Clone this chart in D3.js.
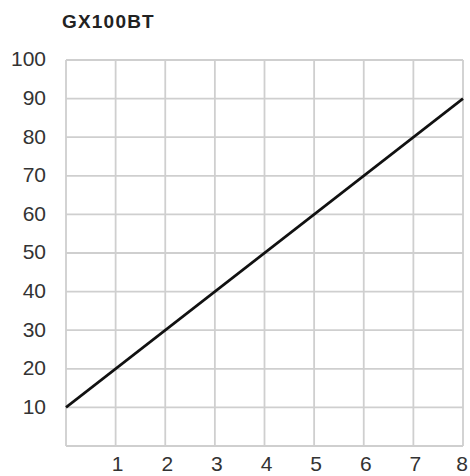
<!DOCTYPE html>
<html>
<head>
<meta charset="utf-8">
<script src="https://cdn.jsdelivr.net/npm/d3@7"></script>
<style>
  body { margin: 0; background: #fff; }
  text { font-family: "Liberation Sans", Arial, sans-serif; }
</style>
</head>
<body>
<script>
// the chart data
const title = "GX100BT";
const xTicks = [1, 2, 3, 4, 5, 6, 7, 8];
const yTicks = [10, 20, 30, 40, 50, 60, 70, 80, 90, 100];
const xVals = [0, 8];
const yVals = [10, 90];

const svg = d3.select("body").append("svg")
              .attr("width", 470)
              .attr("height", 476);

const x = d3.scaleLinear().domain([0, 8]).range([66, 463]);
const y = d3.scaleLinear().domain([0, 100]).range([446, 60]);

// grid
svg.selectAll(".vgrid")
   .data(d3.range(0, 9))
   .join("line")
   .attr("class", "vgrid")
   .attr("x1", d => x(d)).attr("x2", d => x(d))
   .attr("y1", y(100)).attr("y2", y(0))
   .attr("stroke", "#cfcfcf")
   .attr("stroke-width", 1.8);

svg.selectAll(".hgrid")
   .data([0].concat(yTicks))
   .join("line")
   .attr("class", "hgrid")
   .attr("x1", x(0)).attr("x2", x(8))
   .attr("y1", d => y(d)).attr("y2", d => y(d))
   .attr("stroke", "#cfcfcf")
   .attr("stroke-width", 1.8);

// the line
const line = d3.line().x(d => x(d[0])).y(d => y(d[1]));
svg.append("path")
   .datum(d3.zip(xVals, yVals))
   .attr("d", line)
   .attr("fill", "none")
   .attr("stroke", "#111")
   .attr("stroke-width", 2.6);

// tick labels
svg.selectAll(".ylab")
   .data(yTicks)
   .join("text")
   .attr("class", "ylab")
   .attr("x", 46)
   .attr("y", d => y(d))
   .attr("dy", "0.3em")
   .attr("text-anchor", "end")
   .attr("fill", "#333")
   .style("font-size", "21px")
   .text(d => d);

// x labels kept just inside the bottom edge
svg.selectAll(".xlab")
   .data(xTicks)
   .join("text")
   .attr("class", "xlab")
   .attr("x", d => Math.min(x(d) + 2, 462))
   .attr("y", 471)
   .attr("text-anchor", "middle")
   .attr("fill", "#333")
   .style("font-size", "21px")
   .text(d => d);

svg.append("text")
   .attr("x", 62)
   .attr("y", 28)
   .attr("fill", "#222")
   .style("font-size", "19px")
   .style("font-weight", "bold")
   .style("letter-spacing", "1.2px")
   .text(title);
</script>
</body>
</html>
